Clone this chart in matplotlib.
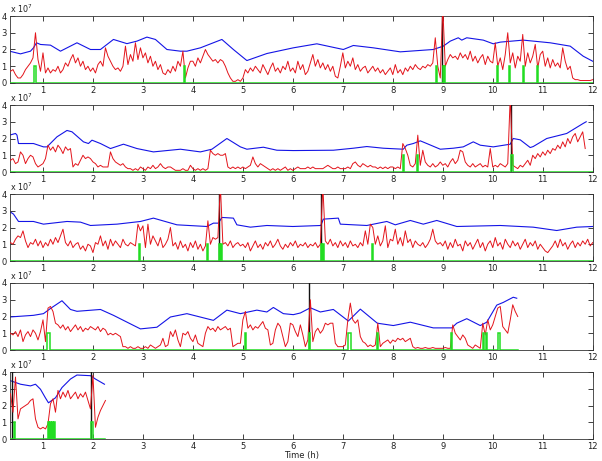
import numpy as np
import matplotlib
matplotlib.use("Agg")
import matplotlib.pyplot as plt

# ---------------- data (values in units of 1e7) ----------------
red_step = 0.05
red_start = [0.35, 0.35, 0.35, 0.35, 0.35]

red_p1 = [0.7,0.8,0.5,0.3,0.3,0.5,0.8,1.0,1.2,1.5,3.0,1.4,0.7,
          1.8,0.6,0.9,0.6,0.8,0.7,1.0,0.6,0.8,1.2,1.0,1.4,1.7,1.2,1.5,1.0,1.3,0.8,1.0,0.7,
          0.9,0.6,1.1,1.3,1.0,2.1,1.6,1.3,1.0,0.8,0.9,0.7,1.0,2.2,1.1,1.7,1.3,2.4,1.4,2.1,
          1.5,1.8,1.2,1.6,1.0,1.3,0.8,1.1,0.6,0.5,0.8,0.6,1.0,0.7,1.3,1.0,1.9,0.3,0.9,1.3,
          1.3,1.0,1.5,1.2,1.6,2.0,1.7,1.5,1.3,1.4,1.2,1.4,1.3,1.0,0.6,0.3,0.1,0.1,0.2,0.1,
          0.3,0.8,0.6,0.9,0.7,1.0,0.8,0.6,1.1,0.8,0.5,0.9,1.2,0.7,0.9,0.6,1.0,0.8,1.3,0.7,
          0.9,0.6,1.3,0.8,1.1,0.5,0.7,1.2,1.7,1.0,1.4,0.9,1.2,0.8,1.1,0.7,1.0,0.4,0.3,1.0,
          1.8,0.9,1.3,1.0,1.5,0.8,1.1,0.7,0.9,1.0,0.6,0.8,1.0,0.7,0.9,0.6,0.8,0.5,0.7,0.9,
          0.5,1.1,0.6,0.8,0.5,0.9,0.7,1.0,0.8,1.1,0.9,0.8,1.0,0.9,1.1,1.0,1.2,2.7,1.0,0.3,
          4.5,1.0,1.4,1.7,1.5,1.6,1.4,1.8,1.5,1.7,1.4,1.9,1.3,1.6,1.2,1.5,1.7,1.1,1.6,1.3,
          1.2,2.4,1.0,1.5,0.8,1.7,3.0,1.2,1.8,0.9,1.6,1.3,2.9,1.0,1.8,1.2,1.6,2.3,0.9,1.7,
          1.9,1.0,1.5,0.9,1.4,1.0,1.2,0.9,2.1,1.3,0.8,1.0,0.3,0.2,0.2,0.15,0.15,0.15,0.15,0.15,0.2]

red_p2 = [0.7,0.8,0.5,0.6,1.2,1.0,0.5,0.8,1.0,0.9,0.5,0.3,0.4,
          0.5,0.8,1.6,1.3,1.5,1.2,1.6,1.4,1.1,1.5,1.3,1.4,0.3,0.5,0.4,0.7,1.0,0.8,0.9,0.8,
          0.6,0.5,0.3,0.4,0.3,0.3,0.3,1.2,0.8,0.6,0.5,0.4,0.5,0.3,0.2,0.2,0.1,0.2,0.1,0.3,
          0.2,0.1,0.3,0.2,0.4,0.2,0.3,0.5,0.3,0.2,0.3,0.3,0.2,0.1,0.1,0.1,0.2,0.1,0.1,0.4,
          0.2,0.1,0.2,0.1,0.2,0.1,0.2,1.3,1.1,1.0,1.1,1.0,1.0,1.1,0.3,0.2,0.3,0.2,0.3,0.2,
          0.3,0.2,0.3,0.4,0.9,0.5,0.3,0.5,0.4,0.3,0.2,0.1,0.2,0.1,0.2,0.1,0.2,0.3,0.1,0.2,
          0.1,0.2,0.3,0.2,0.2,0.2,0.3,0.2,0.3,0.2,0.2,0.2,0.2,0.3,0.4,0.3,0.2,0.2,0.3,0.2,
          0.2,0.2,0.3,0.2,0.5,0.6,0.4,0.3,0.5,0.4,0.3,0.4,0.3,0.3,0.2,0.3,0.2,0.3,0.2,0.3,
          0.3,0.2,0.3,0.2,1.7,1.4,1.0,0.4,0.3,0.5,2.2,0.4,1.3,0.6,0.4,0.3,0.5,0.3,0.4,0.6,
          0.4,0.5,0.3,0.6,0.8,0.5,0.7,1.3,1.2,0.6,0.4,0.3,0.5,0.3,0.4,0.5,0.3,0.4,0.3,1.4,
          0.3,0.4,0.3,0.5,0.4,0.3,0.5,4.5,0.4,0.3,0.2,0.4,0.3,0.5,0.7,0.4,1.0,0.8,1.1,0.9,
          1.2,1.0,1.3,1.1,1.4,1.3,1.6,1.4,1.8,1.5,2.0,1.7,2.1,2.3,1.8,2.1,2.4,1.4]

red_p3 = [1.1,1.0,1.3,1.5,1.4,1.8,1.2,0.8,1.1,1.0,1.3,0.9,1.2,
          0.8,1.1,0.9,1.3,1.0,1.4,1.1,1.5,1.9,1.1,0.9,1.2,0.8,1.0,1.1,0.7,0.9,0.6,1.0,0.9,
          0.5,1.1,1.0,1.5,0.9,1.2,0.7,1.3,0.9,1.2,1.0,0.8,1.3,1.0,0.9,1.1,1.0,0.9,2.2,1.8,
          2.1,0.8,2.2,1.0,1.5,1.2,0.9,1.4,0.8,1.0,1.3,2.0,0.9,1.1,0.7,1.2,0.8,1.0,0.6,1.1,
          0.8,1.2,0.7,1.0,0.6,0.9,2.4,1.0,1.4,1.3,1.4,4.5,1.0,1.1,0.9,1.2,0.8,1.0,1.1,0.9,
          1.0,0.8,1.1,0.6,0.9,1.2,0.8,1.0,0.7,1.1,0.9,1.2,0.8,1.0,1.3,0.9,0.7,1.0,0.8,1.1,
          0.9,1.2,0.8,1.0,0.9,1.1,0.8,1.0,0.9,1.1,0.8,1.0,4.5,1.2,1.0,1.3,0.9,1.1,0.8,1.2,
          0.9,1.1,0.8,1.2,0.9,1.0,0.8,1.1,0.9,1.8,1.0,2.2,2.0,1.0,1.5,0.9,1.2,2.1,0.8,1.3,
          1.2,1.9,1.0,1.4,0.9,1.8,1.1,1.3,0.8,1.2,1.0,0.9,1.1,0.8,1.0,1.3,1.9,1.2,1.0,1.1,
          0.9,1.2,0.7,1.1,0.8,1.3,0.9,1.0,0.6,1.2,0.9,1.1,0.7,1.0,1.3,0.8,1.1,0.6,1.0,1.2,
          0.8,1.4,0.9,1.1,0.7,1.3,1.0,0.8,1.2,0.9,1.1,0.7,1.0,1.3,0.8,1.1,0.9,1.2,0.7,1.0,
          0.8,0.6,0.5,0.7,0.9,1.2,0.8,1.3,0.9,1.1,0.7,1.0,1.2,0.8,1.1,0.9,1.2,1.0,1.3,0.9,1.1]

red_p4 = [1.0,0.9,1.1,0.8,1.2,0.5,0.9,1.1,0.8,1.2,1.0,0.6,1.1,
          1.8,0.5,2.5,2.6,2.3,1.6,1.5,1.3,1.5,1.2,1.4,1.1,1.3,1.5,1.2,1.4,1.1,1.3,1.2,1.4,
          1.3,1.2,1.4,1.1,1.3,1.2,0.9,1.0,0.9,1.0,0.9,0.8,0.2,0.2,0.1,0.2,0.1,0.1,0.2,0.1,
          0.1,0.2,0.1,0.3,0.2,0.1,0.2,0.3,0.7,0.2,0.3,1.1,0.8,1.2,0.6,0.2,1.0,0.9,1.1,0.7,
          0.5,0.9,0.4,0.3,0.2,1.0,1.4,1.2,1.3,1.1,1.4,1.2,1.3,1.4,1.2,1.3,0.2,0.3,0.4,0.4,
          1.8,2.3,1.3,1.5,1.2,1.4,1.3,1.5,1.7,1.3,1.2,0.3,0.4,1.2,1.6,1.4,0.8,0.2,0.5,1.6,
          1.5,1.1,0.8,1.5,0.9,0.2,0.6,3.0,0.5,1.1,1.3,1.0,1.2,1.6,1.5,1.6,1.6,0.4,0.2,0.2,
          0.2,0.3,1.8,2.8,1.8,1.6,1.8,0.8,0.5,0.4,0.2,0.3,0.2,0.3,1.6,0.2,0.4,0.5,0.6,0.4,
          0.6,0.5,0.7,0.6,0.7,0.5,0.6,0.7,0.2,0.1,0.15,0.1,0.1,0.15,0.1,0.1,0.15,0.1,0.1,0.1,
          0.1,0.15,0.1,0.1,1.5,1.0,0.8,0.6,0.9,0.7,0.3,0.2,0.1,0.3,0.2,0.1,1.6,0.9,1.8,1.2,
          1.5,2.0,2.5,2.6,1.4,1.2,1.0,1.8,2.7,2.3,2.0]

red_p5 = [2.7,1.6,3.7,1.2,1.8,1.9,2.0,2.1,2.3,2.4,
          1.2,0.7,0.6,0.7,0.6,0.9,2.1,2.4,1.6,2.9,
          2.4,2.8,2.5,2.9,2.4,2.6,2.8,2.4,2.7,2.5,
          2.8,2.3,1.8,3.8,0.7,1.3,1.7,2.0,2.3]

blue_t_p1 = [0.33,0.55,0.75,0.81,0.87,0.95,1.15,1.35,1.68,1.95,2.15,2.41,2.68,2.88,3.08,3.25,3.48,3.75,3.88,
             4.15,4.58,4.81,5.08,5.48,6.01,6.48,7.01,7.21,7.61,8.15,8.81,9.01,9.15,9.31,9.38,9.48,9.81,
             10.01,10.15,10.61,11.15,11.55,11.81,12.0]
blue_v_p1 = [1.9,1.74,1.9,2.1,2.4,2.3,2.26,1.9,2.4,2.0,2.0,2.6,2.35,2.5,2.74,2.6,2.0,1.9,1.9,
             2.1,2.6,2.0,1.34,1.76,2.1,2.34,2.0,2.24,2.1,1.86,2.0,2.2,2.5,2.7,2.56,2.7,2.56,
             2.34,2.44,2.56,2.4,2.2,1.6,1.3]

blue_t_p2 = [0.33,0.45,0.48,0.51,0.81,1.01,1.08,1.28,1.48,1.58,1.81,1.91,1.98,2.15,2.35,2.61,2.88,3.21,3.75,
             4.15,4.38,4.68,4.95,5.08,5.41,5.68,6.01,6.81,7.21,7.48,7.81,8.21,8.28,8.41,8.55,8.68,8.95,
             9.21,9.41,9.61,9.75,10.01,10.35,10.41,10.55,10.75,10.81,11.08,11.48,11.81,11.87]
blue_v_p2 = [2.2,2.3,2.2,1.7,1.7,1.5,1.5,2.1,2.48,2.4,1.8,1.7,1.9,1.7,1.4,1.66,1.4,1.2,1.36,
             1.2,1.36,2.0,1.5,1.36,1.48,1.3,1.28,1.3,1.42,1.52,1.42,1.36,1.6,1.7,1.86,1.7,1.36,
             1.42,1.5,1.8,1.6,1.5,1.66,2.0,1.92,1.46,1.52,2.0,2.3,2.9,3.0]

blue_t_p3 = [0.33,0.41,0.51,0.81,1.01,1.48,1.75,1.95,2.48,2.95,3.21,3.68,4.28,4.41,4.51,4.58,4.81,4.88,
             5.15,5.48,6.0,6.56,6.61,6.91,6.95,7.48,7.88,8.05,8.35,8.61,8.88,9.28,10.15,10.81,11.28,
             11.68,12.0]
blue_v_p3 = [2.96,2.8,2.36,2.36,2.2,2.36,2.32,2.12,2.2,2.36,2.56,2.16,2.06,2.26,2.26,2.6,2.56,2.16,
             2.02,2.12,2.06,2.12,2.5,2.56,2.2,2.12,2.36,2.16,2.42,2.2,2.42,2.06,2.12,2.02,1.82,
             2.02,2.06]

blue_t_p4 = [0.33,0.81,1.01,1.15,1.38,1.55,1.68,2.15,2.41,2.75,2.95,3.28,3.55,3.88,4.41,4.68,4.95,
             5.28,5.48,5.61,5.81,6.01,6.15,6.35,6.55,6.81,7.11,7.35,7.69,8.01,8.35,8.81,9.18,9.28,
             9.48,9.75,9.88,10.08,10.21,10.41,10.48]
blue_v_p4 = [1.97,2.07,2.17,2.48,2.94,2.42,2.31,2.42,2.07,1.56,1.26,1.36,1.97,2.17,1.77,2.38,2.17,
             2.38,2.27,2.54,2.17,2.11,2.21,2.52,2.27,2.42,1.73,2.44,1.6,1.46,1.66,1.32,1.32,1.6,
             1.87,1.46,1.66,2.68,2.84,3.15,3.09]

blue_t_p5 = [0.33,0.55,0.75,0.85,0.95,1.05,1.11,1.25,1.38,1.55,1.68,1.95,2.05,2.23]
blue_v_p5 = [3.5,3.27,3.17,3.27,2.97,2.45,2.16,2.46,3.07,3.58,3.82,3.78,3.58,3.27]

# green pulses (event time, width in h); pulse height 1 (x1e7)
green_t_p1 = [0.83, 3.82, 8.87, 9.0, 9.03, 10.08, 10.32, 10.6, 10.88]
green_w_p1 = [0.03, 0.02, 0.02, 0.02, 0.02, 0.02, 0.02, 0.02, 0.02]
green_t_p2 = [8.2, 8.48, 10.37]
green_w_p2 = [0.03, 0.03, 0.03]
green_t_p3 = [2.92, 4.28, 4.52, 4.56, 6.57, 6.61, 7.58]
green_w_p3 = [0.02, 0.02, 0.02, 0.02, 0.02, 0.02, 0.02]
green_t_p4 = [1.08, 5.04, 6.33, 7.1, 7.69, 9.17, 9.8, 9.87, 10.1]
green_w_p4 = [0.06, 0.02, 0.02, 0.06, 0.02, 0.02, 0.02, 0.02, 0.05]
green_t_p5 = [0.42, 1.11, 1.15, 1.19, 1.23, 1.97]
green_w_p5 = [0.03, 0.015, 0.015, 0.015, 0.015, 0.03]
green_end = [12.0, 12.0, 12.0, 10.5, 2.25]
green_height = 1.0

black_p = [[8.98], [10.36], [4.52, 6.57], [6.33], [0.39, 1.96]]

x_ticks = [1, 2, 3, 4, 5, 6, 7, 8, 9, 10, 11, 12]
y_ticks = [0, 1, 2, 3, 4]

reds = [red_p1, red_p2, red_p3, red_p4, red_p5]
blues = [(blue_t_p1, blue_v_p1), (blue_t_p2, blue_v_p2), (blue_t_p3, blue_v_p3),
         (blue_t_p4, blue_v_p4), (blue_t_p5, blue_v_p5)]
greens = [(green_t_p1, green_w_p1), (green_t_p2, green_w_p2), (green_t_p3, green_w_p3),
          (green_t_p4, green_w_p4), (green_t_p5, green_w_p5)]

# ---------------- figure ----------------
W, H = 602, 461
fig = plt.figure(figsize=(W / 100, H / 100), dpi=100)
tops = [16, 105, 194, 283, 372]
ph = 67
left_px, right_px = 9.5, 592.7

RED = '#e3141b'
BLUE = '#1414e6'
GREEN = '#22dd22'
EDGE = '#333333'

for i in range(5):
    ax = fig.add_axes([left_px / W, 1 - (tops[i] + ph) / H, (right_px - left_px) / W, ph / H])
    gx, gy = [0.33], [0.0]
    for t, w in zip(*greens[i]):
        gx += [t, t, t + w, t + w]
        gy += [0.0, green_height, green_height, 0.0]
    gx.append(green_end[i]); gy.append(0.0)
    bt, bv = blues[i]
    ax.plot(bt, bv, color=BLUE, lw=0.8, zorder=2)
    for t in black_p[i]:
        ax.axvline(t, color='#111111', lw=1.0, zorder=3)
    rv = np.array(reds[i], dtype=float)
    rt = red_start[i] + red_step * np.arange(len(rv))
    ax.plot(rt, rv, color=RED, lw=0.7, zorder=4)
    ax.plot(gx, gy, color=GREEN, lw=1.1, zorder=5, solid_joinstyle='miter')

    ax.set_xlim(0.33, 12)
    ax.set_ylim(0, 4)
    ax.set_xticks(x_ticks)
    ax.set_yticks(y_ticks)
    ax.tick_params(direction='in', top=True, right=True, length=3.5, width=0.6,
                   labelsize=6, pad=2, colors='#222222')
    for s in ax.spines.values():
        s.set_color(EDGE)
        s.set_linewidth(0.6)
    ax.text(0.0, 1.015, r'x 10$^7$', transform=ax.transAxes, fontsize=5.8,
            ha='left', va='bottom', color='#222222')

fig.text((left_px + right_px) / 2 / W, 1 - 455 / H, 'Time (h)', fontsize=6,
         ha='center', va='center', color='#222222')

fig.savefig('out.png', dpi=100)
